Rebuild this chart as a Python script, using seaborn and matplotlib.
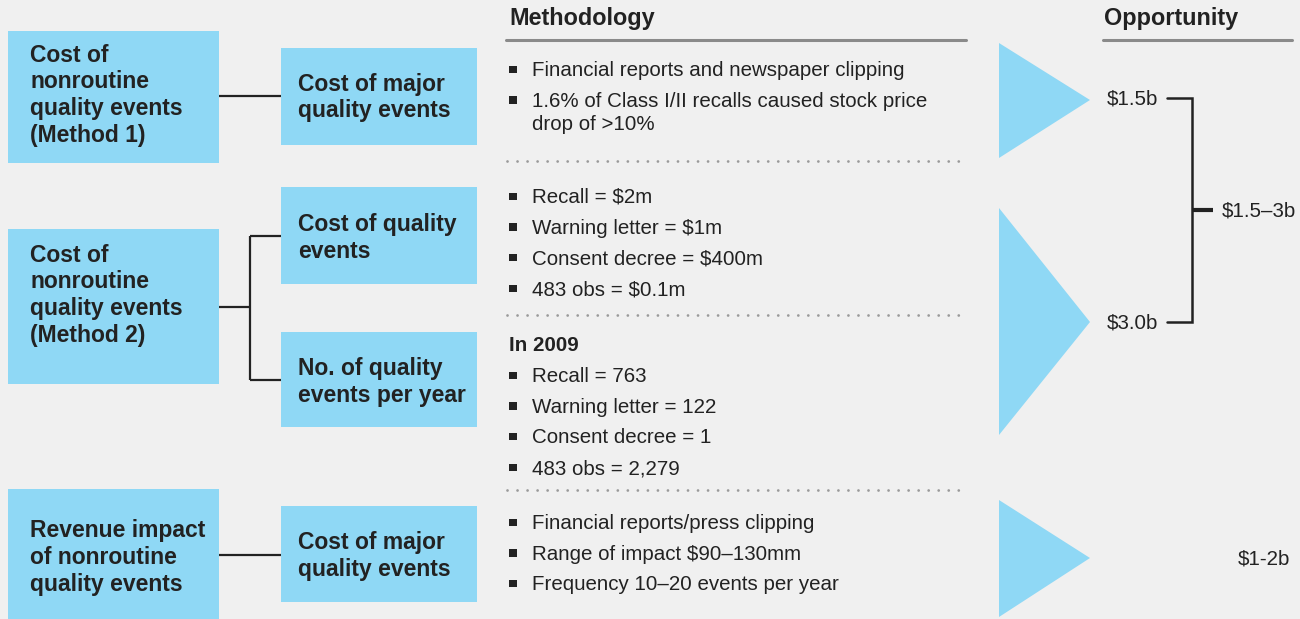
import matplotlib.pyplot as plt
import seaborn as sns
from matplotlib.patches import Rectangle, Polygon

sns.set_theme(style="white")
plt.rcParams["font.family"] = ["Liberation Sans", "DejaVu Sans"]

BG = "#f0f0f0"
BLUE = "#8fd8f5"
INK = "#222222"

# Tree labels
left_labels = [
    ["Cost of", "nonroutine", "quality events", "(Method 1)"],
    ["Cost of", "nonroutine", "quality events", "(Method 2)"],
    ["Revenue impact", "of nonroutine", "quality events"],
]
mid_labels = [
    ["Cost of major", "quality events"],
    ["Cost of quality", "events"],
    ["No. of quality", "events per year"],
    ["Cost of major", "quality events"],
]

# Methodology text, one list per block
method_blocks = [
    [("b", ["Financial reports and newspaper clipping"]),
     ("b", ["1.6% of Class I/II recalls caused stock price", "drop of >10%"])],
    [("b", ["Recall = $2m"]), ("b", ["Warning letter = $1m"]),
     ("b", ["Consent decree = $400m"]), ("b", ["483 obs = $0.1m"])],
    [("h", ["In 2009"]), ("b", ["Recall = 763"]), ("b", ["Warning letter = 122"]),
     ("b", ["Consent decree = 1"]), ("b", ["483 obs = 2,279"])],
    [("b", ["Financial reports/press clipping"]), ("b", ["Range of impact $90\u2013130mm"]),
     ("b", ["Frequency 10\u201320 events per year"])],
]

# Opportunity values
opp_values = ["$1.5b", "$3.0b"]
opp_total = "$1.5\u20133b"
opp_revenue = "$1-2b"

# layout (pixel units)
left_boxes = [(8, 31, 211, 132), (8, 229, 211, 155), (8, 489, 211, 130)]
left_text_y = [55, 255, 531]
mid_boxes = [(281, 48, 196, 97), (281, 187, 196, 97), (281, 332, 196, 95), (281, 506, 196, 96)]
mid_text_y = [84, 225, 369, 543]
block_y = [70.5, 197.5, 345.5, 523.5]
dotted_y = [161, 315, 490]
tri_specs = [(43, 158, 100), (208, 435, 322), (500, 617, 558)]

fig = plt.figure(figsize=(13, 6.19), dpi=100, facecolor=BG)
ax = fig.add_axes([0, 0, 1, 1])
ax.set_facecolor(BG)
ax.set_xlim(0, 1300)
ax.set_ylim(619, 0)
ax.axis("off")

LINE = 26.7
BOX_FS = 16.5
TXT_FS = 14.8

for (x, y, w, h), lines, ty in zip(left_boxes, left_labels, left_text_y):
    ax.add_patch(Rectangle((x, y), w, h, color=BLUE, lw=0))
    for i, t in enumerate(lines):
        ax.text(30, ty + i * LINE, t, fontsize=BOX_FS, fontweight="bold", color=INK, va="center")

for (x, y, w, h), lines, ty in zip(mid_boxes, mid_labels, mid_text_y):
    ax.add_patch(Rectangle((x, y), w, h, color=BLUE, lw=0))
    for i, t in enumerate(lines):
        ax.text(298, ty + i * LINE, t, fontsize=BOX_FS, fontweight="bold", color=INK, va="center")

# connectors
lk = dict(color=INK, lw=1.6, solid_capstyle="butt")
ax.plot([219, 281], [96, 96], **lk)
ax.plot([219, 281], [555, 555], **lk)
ax.plot([219, 250], [307, 307], **lk)
ax.plot([250, 250], [236, 380], **lk)
ax.plot([250, 281], [236, 236], **lk)
ax.plot([250, 281], [380, 380], **lk)

# headers
ax.text(509, 19, "Methodology", fontsize=16.8, fontweight="bold", color=INK, va="center")
ax.plot([506, 966], [40, 40], color="#8a8a8a", lw=2.2)
ax.text(1104, 19, "Opportunity", fontsize=16.8, fontweight="bold", color=INK, va="center")
ax.plot([1103, 1292], [40, 40], color="#8a8a8a", lw=2.2)

# methodology bullets
for block, y0 in zip(method_blocks, block_y):
    y = y0
    for kind, lines in block:
        if kind == "h":
            ax.text(509, y, lines[0], fontsize=TXT_FS, fontweight="bold", color=INK, va="center")
            y += 31
            continue
        ax.add_patch(Rectangle((509, y - 5), 7.5, 7.5, color=INK, lw=0))
        for i, t in enumerate(lines):
            ax.text(532, y + i * 23, t, fontsize=TXT_FS, color=INK, va="center")
        y += 30.7 + (len(lines) - 1) * 23

for y in dotted_y:
    ax.plot([507, 966], [y, y], color="#9a9a9a", lw=2.0, linestyle=(0, (0.01, 3.6)),
            dash_capstyle="round")

# triangles
for top, bot, apex in tri_specs:
    ax.add_patch(Polygon([(999, top), (999, bot), (1090, apex)], closed=True, color=BLUE, lw=0))

# opportunity bracket
ax.text(1158, 99, opp_values[0], fontsize=TXT_FS, color=INK, va="center", ha="right")
ax.text(1158, 323, opp_values[1], fontsize=TXT_FS, color=INK, va="center", ha="right")
ax.plot([1167, 1192, 1192, 1167], [98, 98, 322, 322], color=INK, lw=1.8, solid_joinstyle="miter")
ax.plot([1192, 1213], [210, 210], color=INK, lw=3, solid_capstyle="butt")
ax.text(1222, 211, opp_total, fontsize=TXT_FS, color=INK, va="center", ha="left")
ax.text(1290, 559, opp_revenue, fontsize=TXT_FS, color=INK, va="center", ha="right")

fig.savefig("out.png", dpi=100, facecolor=BG)
